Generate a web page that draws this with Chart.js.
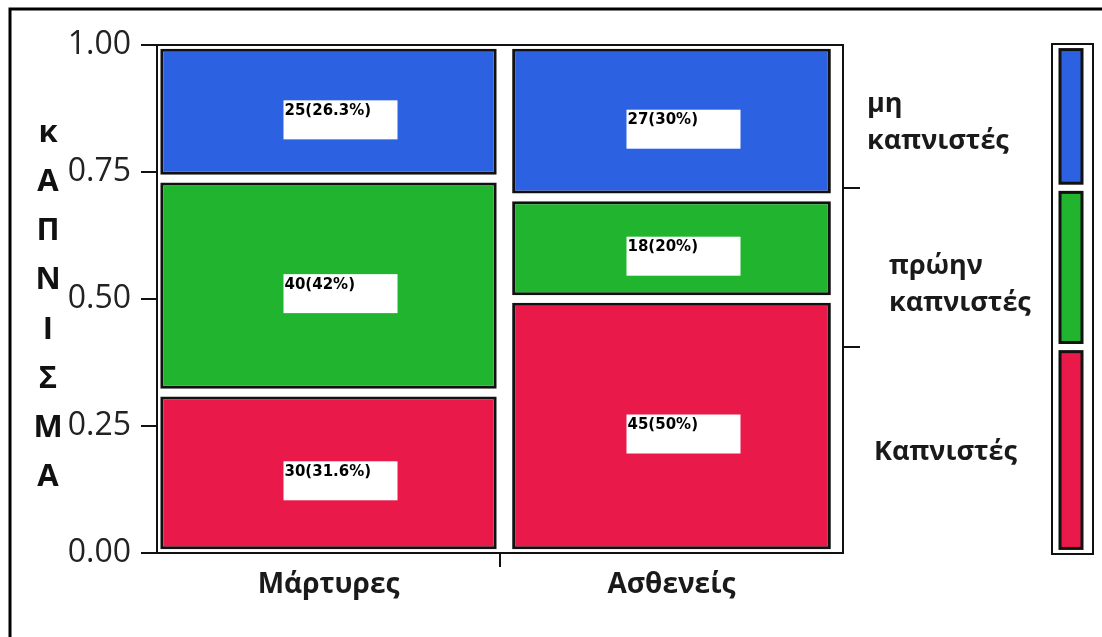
<!DOCTYPE html>
<html>
<head>
<meta charset="utf-8">
<script src="https://cdn.jsdelivr.net/npm/chart.js@4.4.1/dist/chart.umd.min.js"></script>
<style>
  body { margin: 0; background: #fff; }
  #wrap { width: 1102px; height: 637px; }
</style>
</head>
<body>
<div id="wrap"><canvas id="mosaic" width="1102" height="637"></canvas></div>
<script>
// groups on the x axis and smoking categories (bottom to top)
const groups = ["Μάρτυρες", "Ασθενείς"];
const smokeCats = ["Καπνιστές", "πρώην καπνιστές", "μη καπνιστές"];

// counts per group
const smokers = [30, 45];
const formerSmokers = [40, 18];
const nonSmokers = [25, 27];

// percentages as printed in the boxes
const smokersPct = ["31.6%", "50%"];
const formerPct = ["42%", "20%"];
const nonPct = ["26.3%", "30%"];

const yTicks = [0, 0.25, 0.5, 0.75, 1];
const yTitle = ["κ", "Α", "Π", "Ν", "Ι", "Σ", "Μ", "Α"];

const counts = [smokers, formerSmokers, nonSmokers];
const pcts = [smokersPct, formerPct, nonPct];
const colors = ["#e91a49", "#20b42f", "#2c62e2"];
const gap = 0.0075;

const totals = groups.map((g, c) => counts.reduce((s, arr) => s + arr[c], 0));
const avgTotal = totals.reduce((a, b) => a + b, 0) / totals.length;
const grand = totals.reduce((a, b) => a + b, 0);

// marginal cumulative shares (right axis ticks + legend bar)
const margCum = [0];
counts.forEach((arr, s) => margCum.push(margCum[s] + (arr[0] + arr[1]) / grand));

const datasets = [];
groups.forEach((g, c) => {
    let cum = 0;
    counts.forEach((arr, s) => {
        const lo = cum / totals[c];
        cum += arr[c];
        const hi = cum / totals[c];
        const data = groups.map(() => null);
        data[c] = [lo + gap, hi - gap];
        datasets.push({
            label: smokeCats[s],
            data: data,
            backgroundColor: colors[s],
            borderColor: "#111",
            borderWidth: 3,
            borderSkipped: false,
            barPercentage: 0.955 * totals[c] / avgTotal,
            categoryPercentage: 1,
            grouped: false,
            boxText: arr[c] + "(" + pcts[s][c] + ")",
            col: c
        });
    });
});

const extras = {
    id: "extras",
    afterDatasetsDraw(chart) {
        const ctx = chart.ctx;
        ctx.save();
        // value boxes
        chart.data.datasets.forEach((ds, i) => {
            const el = chart.getDatasetMeta(i).data[ds.col];
            if (!el) return;
            const cx = el.x + 12;
            const cy = (el.y + el.base) / 2 + 8;
            const w = 114, h = 39;
            ctx.fillStyle = "#fff";
            ctx.fillRect(cx - w / 2, cy - h / 2, w, h);
            ctx.fillStyle = "#000";
            ctx.font = "bold 15px 'DejaVu Sans'";
            ctx.textAlign = "left";
            ctx.textBaseline = "top";
            ctx.fillText(ds.boxText, cx - w / 2 + 1, cy - h / 2 + 3);
        });
        ctx.restore();
    },
    afterDraw(chart) {
        const ctx = chart.ctx;
        const area = chart.chartArea;
        const y = chart.scales.y;
        ctx.save();
        // plot frame
        ctx.strokeStyle = "#111";
        ctx.lineWidth = 2;
        ctx.strokeRect(area.left, area.top, area.right - area.left, area.bottom - area.top);
        // outer picture frame (left and top)
        ctx.strokeStyle = "#000";
        ctx.lineWidth = 3;
        ctx.beginPath();
        ctx.moveTo(10, 637);
        ctx.lineTo(10, 9);
        ctx.lineTo(1102, 9);
        ctx.stroke();
        // y title, letter by letter
        ctx.fillStyle = "#111";
        ctx.font = "bold 31px 'Open Sans'";
        ctx.textAlign = "center";
        ctx.textBaseline = "middle";
        yTitle.forEach((ch, k) => ctx.fillText(ch, 48, 133 + k * 49.2));
        // legend bar with marginal shares
        const lx = area.right + 209;
        ctx.lineWidth = 2;
        ctx.strokeStyle = "#111";
        ctx.strokeRect(lx, area.top - 1, 41, area.bottom - area.top + 2);
        ctx.lineWidth = 3;
        colors.forEach((col, s) => {
            const top = y.getPixelForValue(margCum[s + 1] - gap * 1.2);
            const bot = y.getPixelForValue(margCum[s] + gap * 1.2);
            ctx.fillStyle = col;
            ctx.fillRect(lx + 8, top, 22, bot - top);
            ctx.strokeRect(lx + 8, top, 22, bot - top);
        });
        // legend text
        ctx.fillStyle = "#1a1a1a";
        ctx.font = "bold 27px 'Open Sans'";
        ctx.textAlign = "left";
        ctx.fillText("μη", 867, 104);
        ctx.fillText("καπνιστές", 867, 141);
        ctx.fillText("πρώην", 889, 266);
        ctx.fillText("καπνιστές", 889, 303);
        ctx.fillText(smokeCats[0], 874, 452);
        ctx.restore();
    }
};

new Chart(document.getElementById("mosaic"), {
    type: "bar",
    data: { labels: groups, datasets: datasets },
    options: {
        responsive: false,
        animation: false,
        layout: { padding: { top: 45, left: 0, right: 0, bottom: 0 } },
        plugins: { legend: { display: false }, tooltip: { enabled: false } },
        scales: {
            x: {
                grid: {
                    offset: true,
                    drawOnChartArea: false,
                    tickLength: 14,
                    lineWidth: 2,
                    color: (c) => c.index === 1 ? "#111" : "rgba(0,0,0,0)"
                },
                border: { color: "#111", width: 2 },
                ticks: { color: "#1a1a1a", font: { family: "'Open Sans'", size: 28, weight: "bold" }, padding: 1 },
                afterFit: (s) => { s.height = 84; }
            },
            y: {
                min: 0,
                max: 1,
                afterBuildTicks: (s) => { s.ticks = yTicks.map(v => ({ value: v })); },
                grid: { drawOnChartArea: false, tickLength: 16, lineWidth: 2, color: "#111" },
                border: { color: "#111", width: 2 },
                ticks: {
                    color: "#222",
                    font: { family: "'Open Sans'", size: 32 },
                    padding: 10,
                    callback: (v) => Number(v).toFixed(2)
                },
                afterFit: (s) => { s.width = 157; }
            },
            y2: {
                position: "right",
                min: 0,
                max: 1,
                afterBuildTicks: (s) => { s.ticks = margCum.slice(1, 3).map(v => ({ value: v })); },
                grid: { drawOnChartArea: false, tickLength: 17, lineWidth: 2, color: "#111" },
                border: { color: "#111", width: 2 },
                ticks: { display: false },
                afterFit: (s) => { s.width = 259; }
            }
        }
    },
    plugins: [extras]
});
</script>
</body>
</html>
